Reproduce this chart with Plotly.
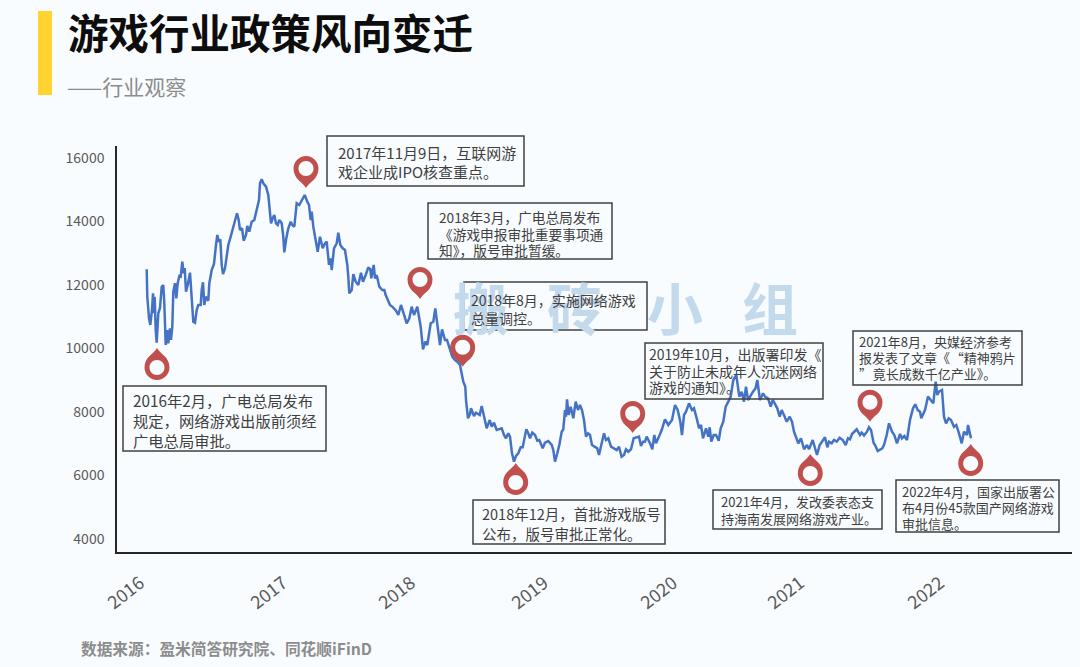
import plotly.graph_objects as go

# ---------- data ----------
session = [
 29.7,30.3,32,33.3,35,36,37,37.7,38.7,39.7,
 41.3,43,44.7,46.3,47.3,48.7,50.3,51.3,53,54,
 55.3,56.3,58,59.3,60.7,62.3,63.7,65.3,66.7,67.7,
 69,70.7,73,74.7,76.3,78,79.7,81.3,83.7,84.7,
 86,87.3,88.7,91.3,92.3,94.7,97,99,100.3,101.7,
 103.3,104.7,106,108,109.7,111.3,113.7,115.7,118,120,
 121.7,123,125,126.7,129,130.3,132.3,134.7,137.3,139.7,
 142,143,144.7,146.3,149,151.3,
 153,154,155.7,157.3,159,160.7,162.3,164.7,166.3,167.3,
 169.3,171.3,173.7,175.3,177.3,179.7,182.3,184.7,187.7,190.3,
 192,193.7,194.7,196.3,198.7,200.7,203,205.7,208,209.7,
 212,213.7,214.7,217,219.7,221.3,223.3,225.7,228,230.3,
 231.3,232.3,234.7,236.3,238.7,241.3,244,246,248.7,251.3,
 252,253.3,254.3,256.7,258,259.7,262.3,265.3,267.3,
 268.7,273,276,279,281.3,284,286.7,289.7,292.3,294.7,
 297,300.3,303.7,306,308.3,310.3,313.7,316.3,318.3,320.3,
 323,325,328,330,333,335.3,338,340.3,343,345.3,
 346.3,348.3,349,351,353,354,357,359,362.7,364.7,
 367.3,369.7,372.7,374.7,377,379.7,
 384.7,387,389,391.3,393,395,397,399,401.3,403.7,
 405.7,408,409.3,411.3,413,415.3,418,420.3,422.3,425.7,
 428,431.3,434.7,436.3,438,440.3,442.3,444.7,446.3,448,
 449,450,451.7,453.7,456.3,458.7,461,463,465,467,
 469,471,473,475,478,480.3,482,484,487,489,
 491.3,494,497,499.7,502,504.6,
 507,509,511.3,514,516.7,519.7,522,524,526,528,
 529.7,533,535.3,537.3,539,542,544.7,548,551.3,555,
 558,560.7,563.3,565,567,569,572,575,577,579.7,
 582,584,586,589,591.3,592.7,594.3,596.7,599,601.7,
 603.7,606.3,608.7,611.3,613.7,616.3,619.3,622.3,624.7,627,
 629,631,633.7,636,638.5,640.3,
 643,646,648,651,653.7,655.7,657.7,660.3,662.7,664.7,
 667.7,669.7,672.7,675,677,679,681.3,684,687,690,
 692,695.7,697.7,700,702.7,705.3,708,710.3,712,714.7,
 717,719.7,722.7,725.7,728.7,731,733,735,737.3,739.7,
 743,744.7,747,750,752,754,756.7,758,760.7,
 763.3,765.3,767,769.7,772,775,777.3,780,783,785,
 787.3,790,793,796,798.3,800.7,803,804.3,808,811,
 813.7,816.3,818.7,820.3,822,825,827,829,831.7,834,
 837,839.3,842,844.7,847,850,
 851,854,857,860,863.3,867,869,871,873.3,876,
 878,880.7,882,884,887,889,891,893,895.7,898,
 900,902.2,904,906.3,909,911,913.7,915.7,918,920.3,
 923,924.7,926.3,929,931.3,933.3,935,937.7,940.3,942.3,
 944.7,948.3,950,952.7,954.3,957,
]
index_close = [
 12494,11630,10950,10740,11212,11738,11110,11630,10582,10183,
 11108,11275,11946,12000,11432,10110,10582,10163,10636,10267,
 10686,11788,12056,11580,12053,12283,12261,12733,12368,12535,
 11788,12000,12387,11423,10843,10812,11212,11370,11370,11842,
 12085,11370,11630,11505,12053,12472,12661,13260,13575,13363,
 13439,12630,12346,12525,12840,13260,13521,13732,14047,14258,
 14047,13732,13786,13395,13575,13858,13678,13993,14047,14416,
 14677,15203,15329,15203,15096,14835,
 14362,13943,14100,14205,13943,13890,14047,13943,13521,13029,
 13470,13786,13993,13890,13836,14573,14519,14677,14835,14624,
 14519,14047,14309,13836,13363,13048,13521,13155,13313,13363,
 12630,12840,12472,13155,13313,13647,13260,13155,13102,12630,
 12261,11738,11842,12346,12103,12000,12387,12103,12315,12557,
 12525,12503,12210,12630,12210,12315,11946,11842,11842,
 11685,11370,11297,11190,11055,11370,11055,10793,10950,11316,
 11055,11316,10686,9974,10213,10110,10793,10843,11265,10740,
 10110,10604,10267,10267,9952,9741,9637,9583,9479,9060,
 8954,8796,8377,7800,7936,8115,7873,7977,7905,8188,
 7851,7485,7747,7536,7662,7432,
 7485,7274,7171,7328,7223,6698,6435,6613,6698,6888,
 6888,7328,7454,7328,7171,7348,7274,7095,7117,6855,
 7033,7085,6960,6802,6435,6698,6960,7379,7454,8062,
 7851,8395,7905,8167,7800,8325,8062,8219,8062,7747,
 7223,7328,7274,6960,6906,6855,6644,6960,7328,7117,
 7171,6906,6855,6802,6906,6591,
 6644,6825,6749,6825,7171,7202,7223,6928,7064,7064,
 7223,7013,6825,7274,7013,7223,7432,7769,7590,7747,
 8219,8062,7694,7274,7905,8009,8272,8062,8115,7800,
 7485,7590,7171,7485,7223,7517,7064,7274,7274,7095,
 7485,7694,8167,8325,8483,9007,
 9164,8483,8639,8325,8796,8377,8534,8639,8744,
 9007,8377,8587,8483,8429,8167,8377,8272,8115,7851,
 8062,7851,7694,7851,7694,7379,7223,7013,7171,6825,
 6960,6825,7117,6888,6644,6960,7064,7202,6888,7064,
 7013,7117,7064,7190,7117,6960,
 7171,7139,7306,7379,7454,7274,7348,7258,7379,7517,
 7432,7013,6960,6771,6825,6855,6960,7274,7643,7379,
 7274,7013,7306,7171,7243,7117,7747,8115,8241,8062,
 8009,7800,8062,8483,8377,8272,8954,8534,8639,8692,
 7851,7643,7800,7747,7536,7590,
 7328,7013,7379,7274,7590,7171,
]
n = min(len(session), len(index_close))
session, index_close = session[:n], index_close[:n]

year_ticks = [23, 166, 294, 427, 556, 683, 823]
year_labels = ["2016", "2017", "2018", "2019", "2020", "2021", "2022"]
y_ticks = [4000, 6000, 8000, 10000, 12000, 14000, 16000]

event_session = [40, 189, 303, 345.7, 398.7, 515.7, 693.3, 753, 853.7]
event_value = [10015, 15055, 11558, 9426, 6392, 7337, 6676, 7693, 6991]
event_points_up = [True, False, False, False, True, False, True, False, True]

event_texts = [
 ["2016年2月，广电总局发布", "规定，网络游戏出版前须经", "广电总局审批。"],
 ["2017年11月9日，互联网游", "戏企业成IPO核查重点。"],
 ["2018年3月，广电总局发布", "《游戏申报审批重要事项通", "知》，版号审批暂缓。"],
 ["2018年8月，实施网络游戏", "总量调控。"],
 ["2018年12月，首批游戏版号", "公布，版号审批正常化。"],
 ["2019年10月，出版署印发《", "关于防止未成年人沉迷网络", "游戏的通知》。"],
 ["2021年4月，发改委表态支", "持海南发展网络游戏产业。"],
 ["2021年8月，央媒经济参考", "报发表了文章《\u200a“精神鸦片", "”\u200a竟长成数千亿产业》。"],
 ["2022年4月，国家出版署公", "布4月份45款国产网络游戏", "审批信息。"],
]
watermark_chars = ["搬", "砖", "小", "组"]

# ---------- style / layout ----------
W, H = 1080, 667
PL, PR, PT, PB = 117, 1072, 146, 552
FONT = "Noto Sans CJK SC"
BG = "#f9fcff"
PIN = "#c0504d"
LINE = "#4472c4"
TXT = "#404040"

def px(x): return (x - PL) / (PR - PL)
def py(y): return (PB - y) / (PB - PT)

# box: left, top, right, bottom, text left, line centres, font size
boxes = [
 (123, 386, 326, 451, 132, (400, 420, 440), 15.3),
 (327, 136, 524, 186, 337, (152, 171), 15),
 (428, 203, 612, 259, 438, (217, 233.5, 250), 13.7),
 (464, 282, 647, 330, 470, (300, 317.5), 14),
 (473, 500, 665, 544, 481, (513, 533), 14.5),
 (645, 343, 823, 399, 648, (354, 370.5, 387), 14),
 (713, 490, 882, 529, 720, (501.5, 518), 13),
 (853, 331, 1022, 385, 858, (341, 357, 373), 13),
 (896, 480, 1059, 532, 901, (491, 507, 523), 13),
]
wm_centers = [481, 575, 675, 770]

def free(x, y, text, size, color, bold=False, xanchor="left", align="left"):
    return dict(xref="paper", yref="paper", x=px(x), y=py(y), text=f"<b>{text}</b>" if bold else text,
                showarrow=False, xanchor=xanchor, yanchor="middle", align=align, borderpad=0,
                font=dict(family=FONT, size=size, color=color))

annotations = []
for c, x in zip(watermark_chars, wm_centers):
    annotations.append(free(x, 305, c, 56, "#c3d9ec", bold=True, xanchor="center"))
shapes = [dict(type="rect", xref="paper", yref="paper", x0=px(38), x1=px(52), y0=py(95), y1=py(11),
               fillcolor="#ffd42e", line_width=0, layer="above")]
for lines, (l, t, r, b, tx, tys, size) in zip(event_texts, boxes):
    for line, ty in zip(lines, tys):
        annotations.append(free(tx, ty, line, size, TXT))
    shapes.append(dict(type="rect", xref="paper", yref="paper", x0=px(l), x1=px(r), y0=py(b), y1=py(t),
                       line=dict(color=TXT, width=1.5), fillcolor="rgba(0,0,0,0)", layer="above"))
annotations += [
    free(66.5, 31.5, "游戏行业政策风向变迁", 40.5, "#0d0d0d", bold=True),
    free(66, 86, "——行业观察", 21, "#8c8c8c"),
    free(80, 648, "数据来源：盈米简答研究院、同花顺iFinD", 15.7, "#8c8c8c", bold=True),
]

R, r_in, D = 12.5, 7.5, 19.5
def pin_path(up):
    s = -1 if up else 1
    k = 0.5523
    p = lambda a, b: f"{a:.2f},{s*b:.2f}"
    outer = (f"M{p(0,0)} C{p(-3,6)} {p(-R,D-11)} {p(-R,D)} "
             f"C{p(-R,D+k*R)} {p(-k*R,D+R)} {p(0,D+R)} "
             f"C{p(k*R,D+R)} {p(R,D+k*R)} {p(R,D)} "
             f"C{p(R,D-11)} {p(3,6)} {p(0,0)} Z")
    q = r_in
    inner = (f"M{p(-q,D)} C{p(-q,D+k*q)} {p(-k*q,D+q)} {p(0,D+q)} "
             f"C{p(k*q,D+q)} {p(q,D+k*q)} {p(q,D)} "
             f"C{p(q,D-k*q)} {p(k*q,D-q)} {p(0,D-q)} "
             f"C{p(-k*q,D-q)} {p(-q,D-k*q)} {p(-q,D)} Z")
    return outer + " " + inner

for xs, v, up in zip(event_session, event_value, event_points_up):
    shapes.append(dict(type="path", xref="x", yref="y", xsizemode="pixel", ysizemode="pixel",
                       xanchor=xs, yanchor=v, path=pin_path(up), fillcolor=PIN,
                       fillrule="evenodd", line_width=0, layer="above"))

fig = go.Figure(go.Scatter(x=session, y=index_close, mode="lines",
                           line=dict(color=LINE, width=2.5), hoverinfo="skip", showlegend=False))
fig.update_layout(
    width=W, height=H, autosize=False,
    paper_bgcolor=BG, plot_bgcolor=BG,
    margin=dict(l=PL, r=W - PR, t=PT, b=H - PB, pad=0),
    font=dict(family=FONT, color="#595959"),
    annotations=annotations, shapes=shapes,
    xaxis=dict(range=[0, PR - PL], tickmode="array", tickvals=year_ticks, ticktext=year_labels,
               tickangle=-38, ticks="", showgrid=False, zeroline=False,
               showline=True, linecolor="#262626", linewidth=1.5,
               ticklabelstandoff=12, tickfont=dict(size=18, color="#595959")),
    yaxis=dict(range=[3589, 16378], tickmode="array", tickvals=y_ticks, ticktext=[str(v) for v in y_ticks],
               ticks="", showgrid=False, zeroline=False,
               showline=True, linecolor="#262626", linewidth=1.5,
               ticklabelstandoff=8, tickfont=dict(size=14, color="#595959")),
)
fig.write_html("out.html", config={"displayModeBar": False},
               post_script="document.body.style.margin='0';document.body.style.background='#f9fcff';window.dispatchEvent(new Event('resize'));")
